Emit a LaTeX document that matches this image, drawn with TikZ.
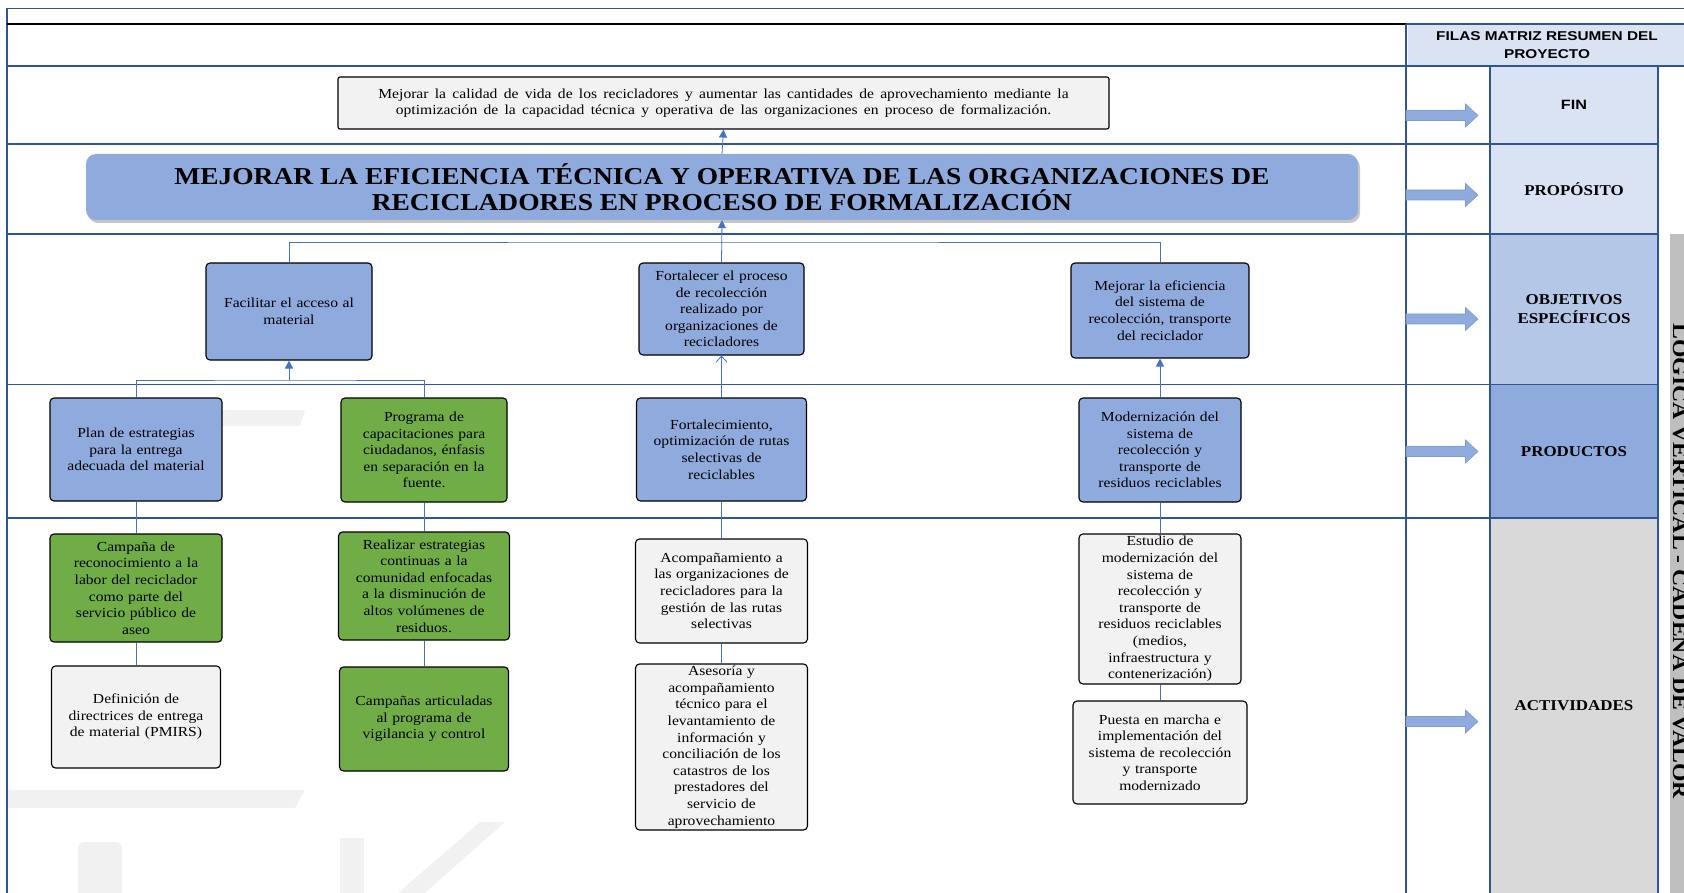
\documentclass[tikz,border=0pt]{standalone}
\usepackage{fontspec}
\setmainfont{Liberation Serif}[FakeStretch=1.13]
\newfontfamily\headsans{Liberation Sans}[FakeStretch=1.2]
\usepackage{tikz}
\usetikzlibrary{arrows.meta, positioning, shadows, calc}
\definecolor{mgrid}{HTML}{2F5597}
\definecolor{mconn}{HTML}{4472C4}
\definecolor{mblue}{HTML}{8FAADC}
\definecolor{mgreen}{HTML}{70AD47}
\definecolor{mlightbox}{HTML}{F2F2F2}
\definecolor{mpale}{HTML}{DAE3F3}
\definecolor{mmid}{HTML}{B4C7E7}
\definecolor{mact}{HTML}{D9D9D9}
\definecolor{mbar}{HTML}{BFBFBF}
\definecolor{mwater}{HTML}{F1F1F1}
\tikzset{
  txt/.style={font=\fontsize{13.8}{16.6}\selectfont, align=center,
              inner xsep=4pt, inner ysep=0pt},
  box/.style 2 args={txt, draw=black, line width=1.1pt, rounded corners=4pt,
                     text width=#1pt, minimum height=#2pt},
  bbox/.style 2 args={box={#1}{#2}, fill=mblue},
  gbox/.style 2 args={box={#1}{#2}, fill=mgreen},
  lbox/.style 2 args={box={#1}{#2}, fill=mlightbox},
  tline/.style={mgrid, line width=1.3pt},
  conn/.style={mconn, line width=0.8pt},
  arr/.style={conn, -{Triangle[width=8pt,length=8pt]}},
  oarr/.style={conn, -{Straight Barb[width=11pt,length=6pt]}},
  blk/.style={fill=mblue, draw=mconn!70, line width=0.6pt},
}

\begin{document}
\begin{tikzpicture}[x=1pt, y=-1pt]
  \tikzstyle{cell} = [inner sep=0pt, align=center, minimum width=168pt]
  \tikzstyle{lbl} = [font=\fontsize{15}{19}\selectfont\bfseries]
  \useasboundingbox (0,0) rectangle (1684,893);

  %% Faint watermark
  \fill[mwater] (7,790) -- (305,790) -- (295,808) -- (7,808) -- cycle;
  \fill[mwater, rounded corners=6pt] (78,842) rectangle (122,900);
  \fill[mwater] (190,410) -- (305,410) -- (300,426) -- (185,426) -- cycle;
  \fill[mwater] (480,822) -- (505,822) -- (425,893) -- (398,893) -- cycle;
  \fill[mwater] (340,838) rectangle (364,893);

  %% Right side: summary column
  \node[cell, fill=mpale, minimum width=278pt, minimum height=42pt,
        font=\headsans\bfseries\fontsize{12.8}{18}\selectfont] (hdr) at (1547,45) {FILAS MATRIZ RESUMEN DEL\\PROYECTO};
  \node[cell, fill=mpale, minimum height=78pt,
        font=\headsans\bfseries\fontsize{13.5}{15}\selectfont] (cfin) at (1574,105) {FIN};
  \node[cell, lbl, fill=mpale, minimum height=90pt] (cprop) at (1574,189) {PROPÓSITO};
  \node[cell, lbl, fill=mmid, minimum height=150.5pt] (cobj) at (1574,309.25) {OBJETIVOS\\ESPECÍFICOS};
  \node[cell, lbl, fill=mblue, minimum height=133.5pt] (cprod) at (1574,451.25) {PRODUCTOS};
  \node[cell, lbl, fill=mact, minimum height=375pt] (cact) at (1574,705.5) {ACTIVIDADES};

  %% Side bar
  \fill[mbar] (1670,234) rectangle (1684,893);
  \node[font=\fontsize{21}{21}\selectfont\bfseries, rotate=-90, inner sep=0pt, anchor=base]
    (vlogic) at (1673,561) {LÓGICA VERTICAL - CADENA DE VALOR};

  %% Table rules
  \draw[tline] (7,893) -- (7,8.6) -- (1684,8.6);
  \draw[black, line width=1.2pt] (7,24) -- (1406,24);
  \draw[tline] (1406,24) -- (1684,24);
  \draw[tline] (7,66) -- (1684,66);
  \foreach \yy in {144,234,384.5,518}
    \draw[tline] (7,\yy) -- (1658,\yy);
  \draw[tline, line width=2pt] (1406,24) -- (1406,893);
  \draw[tline, line width=2pt] (1490,66) -- (1490,893);
  \draw[tline, line width=2pt] (1658,66) -- (1658,893);

  %% Block arrows
  \foreach \yy in {115.5,195,319,451.5,721.5}
    \draw[blk] (1406,\yy-5) -- (1465.5,\yy-5) -- (1465.5,\yy-11.5) -- (1478,\yy)
      -- (1465.5,\yy+11.5) -- (1465.5,\yy+5) -- (1406,\yy+5) -- cycle;

  %% Fin
  \node[lbox={763}{52}, rounded corners=2pt, font=\fontsize{13.8}{16}\selectfont] (goal) at (723.5,103)
    {\spaceskip=6.3pt\relax Mejorar la calidad de vida de los recicladores y aumentar las cantidades de aprovechamiento mediante la\\optimización de la capacidad técnica y operativa de las organizaciones en proceso de formalización.};

  %% Proposito
  \node[fill=mblue, rounded corners=10pt, minimum width=1272pt, minimum height=66pt,
        align=center, inner sep=0pt, font=\fontsize{24.3}{26}\selectfont\bfseries,
        drop shadow={shadow xshift=2pt, shadow yshift=-3pt, opacity=0.45}] (pur) at (722,187)
    {MEJORAR LA EFICIENCIA TÉCNICA Y OPERATIVA DE LAS ORGANIZACIONES DE\\RECICLADORES EN PROCESO DE FORMALIZACIÓN};

  %% Objetivos
  \node[bbox={158}{97}] (o1) at (289,311.5) {Facilitar el acceso al\\material};
  \node[bbox={157}{92}] (o2) at (721.5,309) {Fortalecer el proceso\\de recolección\\realizado por\\organizaciones de\\recicladores};
  \node[bbox={170}{95}] (o3) at (1160,310.5) {Mejorar la eficiencia\\del sistema de\\recolección, transporte\\del reciclador};

  %% Productos
  \node[bbox={164}{103}] (p1) at (136,449.5) {Plan de estrategias\\para la entrega\\adecuada del material};
  \node[gbox={158}{104}] (p2) at (424,450) {Programa de\\capacitaciones para\\ciudadanos, énfasis\\en separación en la\\fuente.};
  \node[bbox={162}{103}] (p3) at (721.5,449.5) {Fortalecimiento,\\optimización de rutas\\selectivas de\\reciclables};
  \node[bbox={154}{104}] (p4) at (1160,450) {Modernización del\\sistema de\\recolección y\\transporte de\\residuos reciclables};

  %% Actividades
  \node[gbox={164}{108}] (a1) at (136,588) {Campaña de\\reconocimiento a la\\labor del reciclador\\como parte del\\servicio público de\\aseo};
  \node[lbox={161}{102}] (a2) at (136,717) {Definición de\\directrices de entrega\\de material (PMIRS)};
  \node[gbox={163}{108}] (a3) at (424,586) {Realizar estrategias\\continuas a la\\comunidad enfocadas\\a la disminución de\\altos volúmenes de\\residuos.};
  \node[gbox={161}{104}] (a4) at (424,719) {Campañas articuladas\\al programa de\\vigilancia y control};
  \node[lbox={164}{104}] (a5) at (721.5,591) {Acompañamiento a\\las organizaciones de\\recicladores para la\\gestión de las rutas\\selectivas};
  \node[lbox={164}{166}] (a6) at (721.5,747) {Asesoría y\\acompañamiento\\técnico para el\\levantamiento de\\información y\\conciliación de los\\catastros de los\\prestadores del\\servicio de\\aprovechamiento};
  \node[lbox={154}{150}] (a7) at (1160,609) {Estudio de\\modernización del\\sistema de\\recolección y\\transporte de\\residuos reciclables\\(medios,\\infraestructura y\\contenerización)};
  \node[lbox={166}{103}] (a8) at (1160,752.5) {Puesta en marcha e\\implementación del\\sistema de recolección\\y transporte\\modernizado};

  %% Connectors
  \coordinate (bus0) at (722,242);
  \coordinate (bus1) at (289,380);
  \draw[arr] (pur.north) -- (goal.south);
  \draw[conn] (o1.north) |- (bus0) -| (o3.north);
  \draw[arr] (o2.north) -- (pur.south);
  \draw[conn] (p1.north) |- (bus1) -| (p2.north);
  \draw[arr] (bus1) -- (o1.south);
  \draw[oarr] (p3.north) -- (o2.south);
  \draw[arr] (p4.north) -- (o3.south);
  \draw[conn] (p1.south) -- (a1.north) (a1.south) -- (a2.north);
  \draw[conn] (p2.south) -- (a3.north) (a3.south) -- (a4.north);
  \draw[conn] (p3.south) -- (a5.north) (a5.south) -- (a6.north);
  \draw[conn] (p4.south) -- (a7.north) (a7.south) -- (a8.north);

\end{tikzpicture}
\end{document}
